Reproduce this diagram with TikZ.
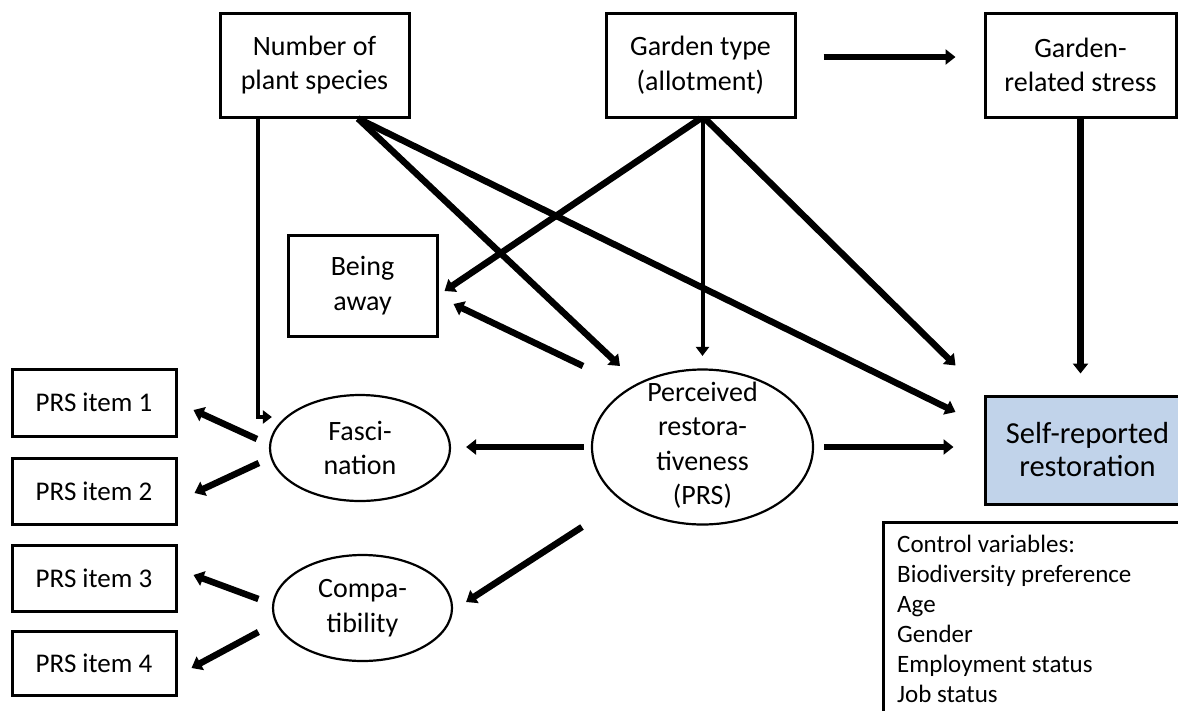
\documentclass[tikz,border=0pt]{standalone}
\usepackage{fontspec}
\setmainfont{Carlito}
\usetikzlibrary{arrows.meta,calc,shapes.geometric}
\definecolor{srblue}{RGB}{193,211,234}
\begin{document}
\begin{tikzpicture}[x=1pt,y=-1pt,
  box/.style={draw,line width=3pt,align=center,inner sep=0pt,font=\fontsize{28}{34.5}\selectfont},
  oval/.style={draw,ellipse,line width=2.2pt,align=center,inner sep=0pt,font=\fontsize{28}{34.5}\selectfont},
  item/.style={box,minimum width=164pt,font=\fontsize{27}{33}\selectfont},
  arr/.style={line width=6.5pt,-{Triangle[length=10pt,width=15pt]}},
  arrthin/.style={line width=4pt,-{Triangle[length=9pt,width=13pt]}},
]
\useasboundingbox (0,0) rectangle (1178,710);
\clip (0,0) rectangle (1178,710);

\node[box,minimum width=189pt,minimum height=104pt] (nps) at (314.5,65) {Number of\\plant species};
\node[box,minimum width=189pt,minimum height=104pt] (gt) at (700.5,65) {Garden type\\(allotment)};
\node[box,minimum width=191pt,minimum height=104pt] (grs) at (1080.5,65) {Garden-\\related stress};
\node[box,minimum width=149pt,minimum height=101pt] (ba) at (362.5,285.5) {Being\\away};
\node[oval,minimum width=180pt,minimum height=106pt] (fasc) at (360,448) {Fasci-\\nation};
\node[oval,minimum width=179pt,minimum height=106pt] (compat) at (362.5,608) {Compa-\\tibility};
\node[oval,minimum width=221pt,minimum height=155pt] (prs) at (702.5,447) {};
\node[align=center,inner sep=0pt,font=\fontsize{28}{34.5}\selectfont] (prstext) at (702.5,445) {Perceived\\restora-\\tiveness\\(PRS)};
\node[box,fill=srblue,minimum width=205pt,minimum height=108pt,font=\fontsize{30.5}{33}\selectfont] (sr) at (1087.5,450) {Self-reported\\restoration};

\node[item,minimum height=67pt] (i1) at (94,402.5) {PRS item 1};
\node[item,minimum height=66pt] (i2) at (94,491) {PRS item 2};
\node[item,minimum height=66pt] (i3) at (94,578) {PRS item 3};
\node[item,minimum height=64pt] (i4) at (94,663) {PRS item 4};

\node[draw,line width=3pt,anchor=north west,inner sep=0pt,minimum width=320pt,minimum height=220pt] (ctrl) at (882,521) {};
\node[anchor=north west,align=left,inner sep=0pt,font=\fontsize{25}{30}\selectfont] (ctrltext) at (897,535) {Control variables:\\Biodiversity preference\\Age\\Gender\\Employment status\\Job status};

% connectors
\draw[arrthin] ([xshift=-56.5pt]nps.south) |- ($(fasc.west)+(3,-31)$);
\draw[arr] ([xshift=43.5pt]nps.south) -- ($(prs.center)+(-82.5,-81)$);
\draw[arr] ([xshift=43.5pt]nps.south) -- ($(sr.west)+(-28,-38)$);
\draw[arr] (gt.south) -- ($(ba.east)+(6,5.5)$);
\draw[arrthin] (prs.north |- gt.south) -- ([yshift=12.5pt]prs.north);
\draw[arr] ([xshift=4.5pt]gt.south) -- ($(sr.north west)+(-28,-29)$);
\draw[arr] ($(gt.east)+(27,-8)$) -- ($(grs.west)+(-28,-8)$);
\draw[arr] (grs.south) -- ($(grs.south |- sr.north)+(0,-21)$);
\draw[arr] ($(prs.center)+(-119.5,-81)$) -- ($(ba.east)+(15,18.5)$);
\draw[arr] ($(prs.west)+(-7,0)$) -- ($(fasc.east |- prs.west)+(15,0)$);
\draw[arr] ($(prs.east)+(10,0)$) -- ($(sr.west |- prs.east)+(-30,0)$);
\draw[arr] ($(prs.center)+(-120.5,80)$) -- ($(compat.east)+(13,-6)$);
\draw[arr] ($(fasc.west)+(-12,-9)$) -- ($(i1.east)+(16,7.5)$);
\draw[arr] ($(fasc.west)+(-10,15)$) -- ($(i2.east)+(17,2)$);
\draw[arr] ($(compat.west)+(-13.5,-9)$) -- ($(i3.east)+(16,-3)$);
\draw[arr] ($(compat.west)+(-13.5,24)$) -- ($(i4.east)+(14,5)$);
\end{tikzpicture}
\end{document}
